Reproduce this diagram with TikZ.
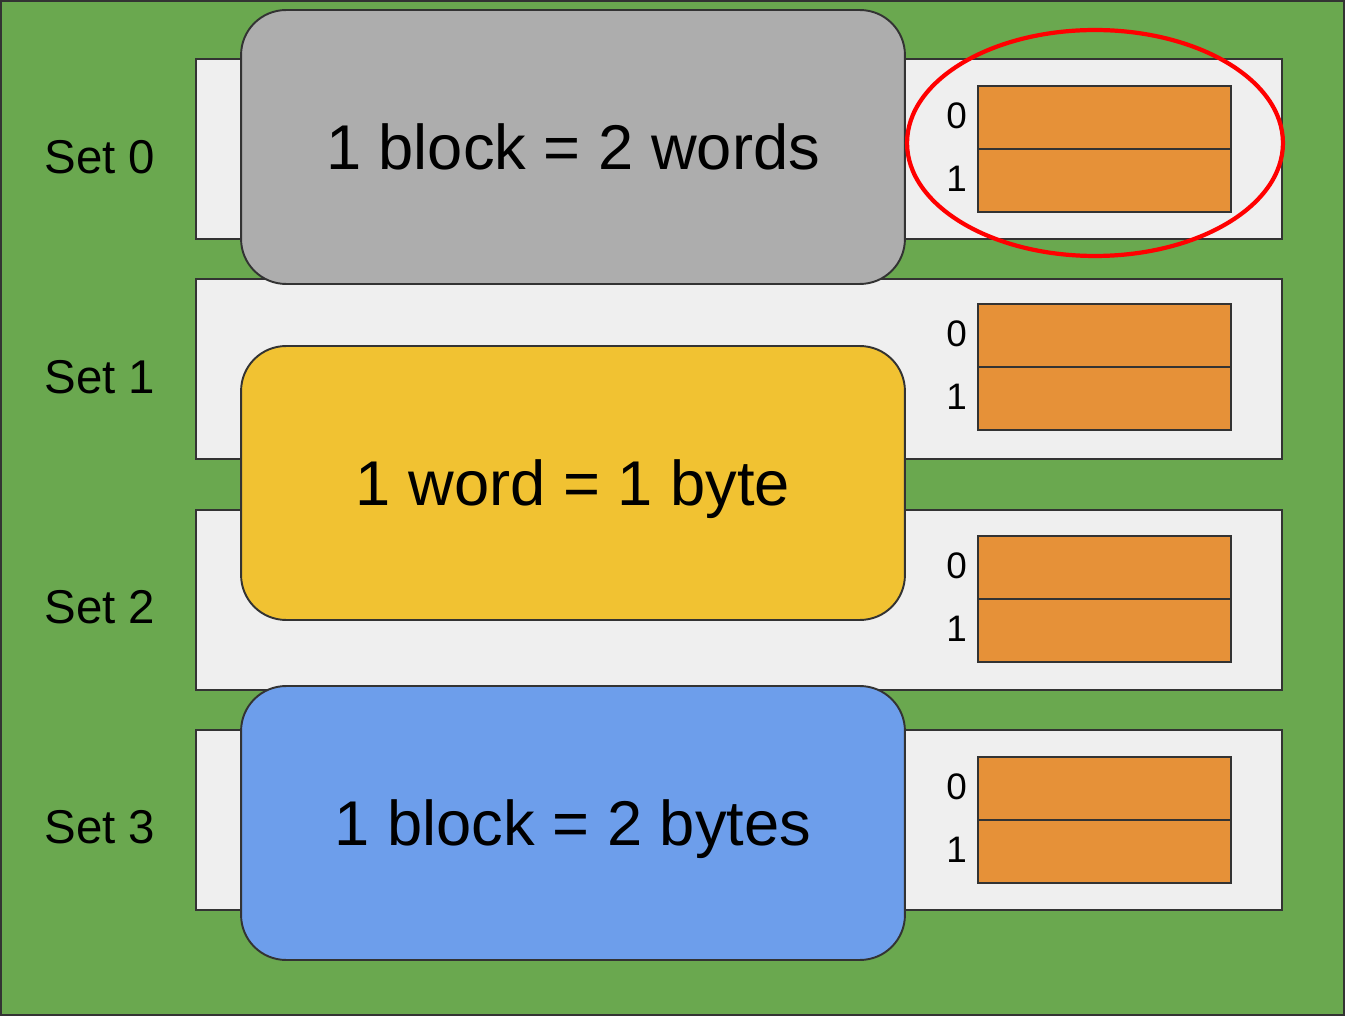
\documentclass[tikz,border=0pt]{standalone}
\usepackage{fontspec}
\setmainfont{Liberation Sans}
\usepackage{xcolor}
\usepackage{tikz}
\usetikzlibrary{positioning}
\usetikzlibrary{shapes.geometric}

\definecolor{bggreen}{HTML}{6AA84F}
\definecolor{rowgray}{HTML}{EFEFEF}
\definecolor{linegray}{HTML}{333333}
\definecolor{boxgray}{HTML}{ADADAD}
\definecolor{boxyellow}{HTML}{F1C232}
\definecolor{boxblue}{HTML}{6D9EEB}
\definecolor{cellorange}{HTML}{E69138}

\begin{document}
\begin{tikzpicture}[
x=0.02cm, y=-0.02cm,
setrow/.style={rectangle, draw=linegray, fill=rowgray, line width=1.1pt, minimum width=21.72cm, minimum height=3.6cm, inner sep=0pt, outer sep=0pt},
infobox/.style={rectangle, rounded corners=0.9cm, draw=linegray, line width=1.1pt, minimum width=13.28cm, minimum height=5.48cm, inner sep=0pt, outer sep=0pt, text depth=0pt, font=\fontsize{36}{43}\selectfont},
wordcell/.style={rectangle, draw=linegray, fill=cellorange, line width=1.1pt, minimum width=5.06cm, minimum height=1.26cm, inner sep=0pt, outer sep=0pt},
wayindex/.style={inner sep=1pt, yshift=0.04cm, font=\fontsize{21}{25}\selectfont},
setlabel/.style={inner sep=0pt, font=\fontsize{27}{32}\selectfont},
]
\useasboundingbox (0,0) rectangle (1345,1016);
%Background
\draw[draw=linegray, fill=bggreen, line width=2.2pt] (0,0) rectangle (1345,1016);

%Set rows
\node[setrow]		(row0)		at (739,149)		{};
\node[setrow]		(row1)		at (739,369)		{};
\node[setrow]		(row2)		at (739,600)		{};
\node[setrow]		(row3)		at (739,820)		{};

%Info boxes
\node[infobox, fill=boxgray]		(blockwords)		at (573,147)		{1 block = 2 words};
\node[infobox, fill=boxyellow]		(wordbyte)		at (573,483)		{1 word = 1 byte};
\node[infobox, fill=boxblue]		(blockbytes)		at (573,823)		{1 block = 2 bytes};

%Cells
\node[wordcell]		(c00)		at (1104.5,117.5)		{};
\node[wordcell]		(c01)		[below=0pt of c00]		{};
\node[wordcell]		(c10)		at (1104.5,335.5)		{};
\node[wordcell]		(c11)		[below=0pt of c10]		{};
\node[wordcell]		(c20)		at (1104.5,567.5)		{};
\node[wordcell]		(c21)		[below=0pt of c20]		{};
\node[wordcell]		(c30)		at (1104.5,788.5)		{};
\node[wordcell]		(c31)		[below=0pt of c30]		{};

%Way numbers
\node[wayindex]		(i00)		[left=0.18cm of c00]		{0};
\node[wayindex]		(i01)		[left=0.18cm of c01]		{1};
\node[wayindex]		(i10)		[left=0.18cm of c10]		{0};
\node[wayindex]		(i11)		[left=0.18cm of c11]		{1};
\node[wayindex]		(i20)		[left=0.18cm of c20]		{0};
\node[wayindex]		(i21)		[left=0.18cm of c21]		{1};
\node[wayindex]		(i30)		[left=0.18cm of c30]		{0};
\node[wayindex]		(i31)		[left=0.18cm of c31]		{1};

%Set labels
\node[setlabel]		(set0)		at (100,157)		{Set 0};
\node[setlabel]		(set1)		at (100,377)		{Set 1};
\node[setlabel]		(set2)		at (100,607)		{Set 2};
\node[setlabel]		(set3)		at (100,827)		{Set 3};

%Highlight
\node[ellipse, draw=red, line width=2.4pt, minimum width=7.52cm, minimum height=4.52cm, inner sep=0pt]		(mark)		at (1095,143)		{};
\end{tikzpicture}
\end{document}
